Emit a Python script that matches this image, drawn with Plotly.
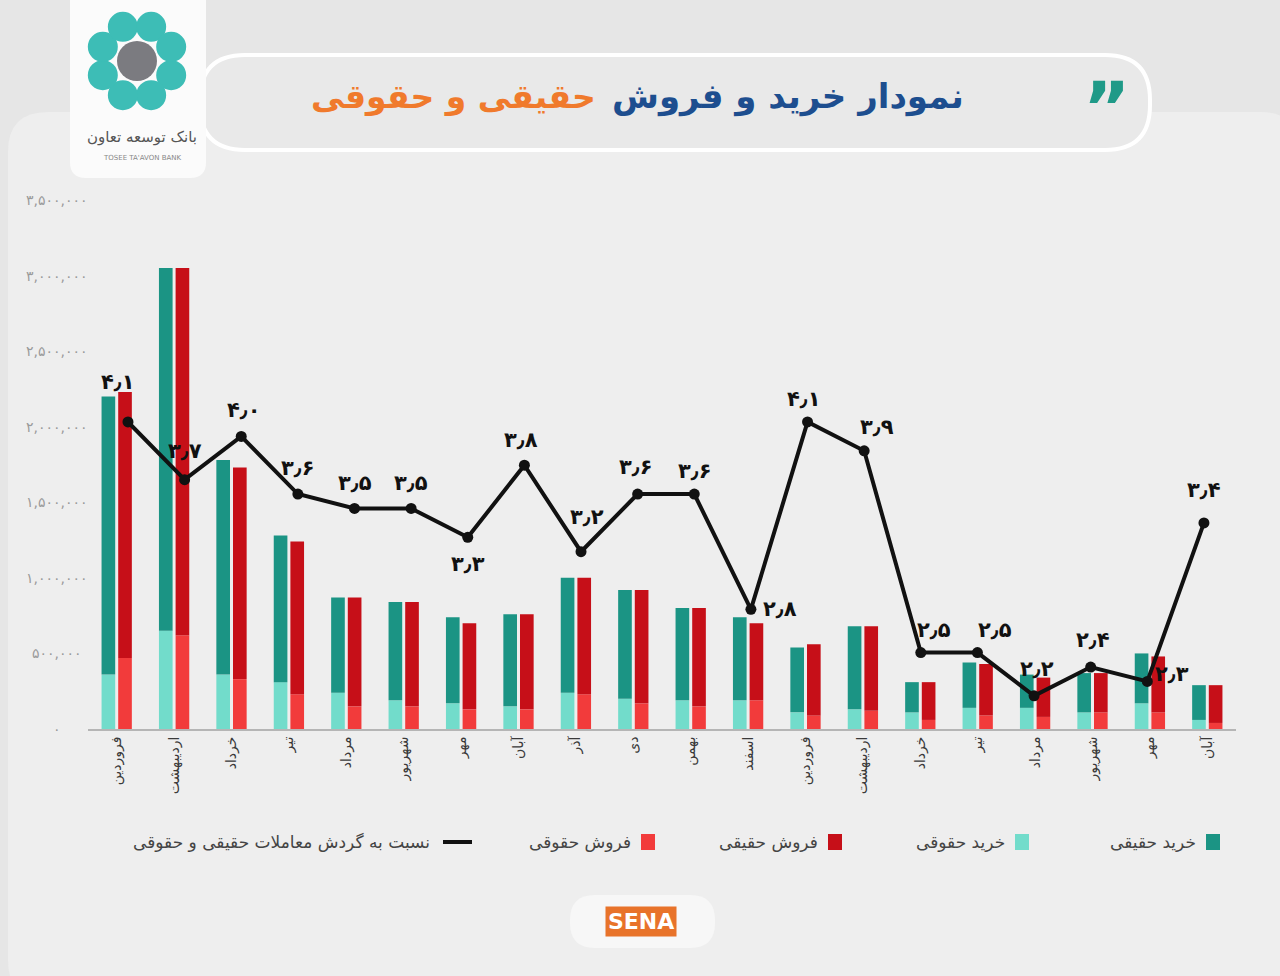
import math
import plotly.graph_objects as go

# ---------------- data ----------------
months = ["فروردین", "اردیبهشت", "خرداد", "تیر", "مرداد", "شهریور", "مهر", "آبان",
          "آذر", "دی", "بهمن", "اسفند", "فروردین", "اردیبهشت", "خرداد", "تیر",
          "مرداد", "شهریور", "مهر", "آبان"]

buy_legal = [360000, 650000, 360000, 310000, 240000, 190000, 170000, 150000, 240000, 200000,
             190000, 190000, 110000, 130000, 110000, 140000, 140000, 110000, 170000, 60000]
buy_real = [1840000, 2400000, 1420000, 970000, 630000, 650000, 570000, 610000, 760000, 720000,
            610000, 550000, 430000, 550000, 200000, 300000, 220000, 260000, 330000, 230000]
sell_legal = [470000, 620000, 330000, 230000, 150000, 150000, 130000, 130000, 230000, 170000,
              150000, 190000, 90000, 120000, 60000, 90000, 80000, 110000, 110000, 40000]
sell_real = [1760000, 2430000, 1400000, 1010000, 720000, 690000, 570000, 630000, 770000, 750000,
             650000, 510000, 470000, 560000, 250000, 340000, 260000, 260000, 370000, 250000]
ratio = [4.1, 3.7, 4.0, 3.6, 3.5, 3.5, 3.3, 3.8, 3.2, 3.6, 3.6, 2.8, 4.1, 3.9, 2.5, 2.5,
         2.2, 2.4, 2.3, 3.4]
y_ticks = [0, 500000, 1000000, 1500000, 2000000, 2500000, 3000000, 3500000]

legend_names = ["خرید حقیقی", "خرید حقوقی", "فروش حقیقی", "فروش حقوقی",
                "نسبت به گردش معاملات حقیقی و حقوقی"]

# ---------------- styles ----------------
lbl_dx = [-10, 0, 2, 0, 0, 0, 0, -3, 6, -2, 0, 29, -4, 13, 13, 18, 3, 2, 25, 0]
lbl_dy = [40, 29, 26, 26, 25, 25, -27, 25, 35, 27, 23, 0, 23, 24, 23, 23, 27, 27, 7, 33]

C_BUY_REAL = "#1b9484"
C_BUY_LEGAL = "#72dccb"
C_SELL_REAL = "#c60f18"
C_SELL_LEGAL = "#f23b3b"
FA = "DejaVu Sans"

W, H = 1280, 976
L, R, T, B = 88, 44, 200, 247
PW, PH = W - L - R, H - T - B


def fa_digits(s):
    return str(s).translate(str.maketrans("0123456789.", "۰۱۲۳۴۵۶۷۸۹٫"))


def px(x):
    return (x - L) / PW


def py(y):
    return (H - B - y) / PH


idx = list(range(len(months)))

fig = go.Figure()
fig.add_trace(go.Bar(x=idx, y=buy_legal, offsetgroup="buy", marker_color=C_BUY_LEGAL,
                     marker_line_width=0, name=legend_names[1], showlegend=False))
fig.add_trace(go.Bar(x=idx, y=buy_real, base=buy_legal, offsetgroup="buy",
                     marker_color=C_BUY_REAL, marker_line_width=0, name=legend_names[0],
                     showlegend=False))
fig.add_trace(go.Bar(x=idx, y=sell_legal, offsetgroup="sell", marker_color=C_SELL_LEGAL,
                     marker_line_width=0, name=legend_names[3], showlegend=False))
fig.add_trace(go.Bar(x=idx, y=sell_real, base=sell_legal, offsetgroup="sell",
                     marker_color=C_SELL_REAL, marker_line_width=0, name=legend_names[2],
                     showlegend=False))
fig.add_trace(go.Scatter(x=idx, y=ratio, xaxis="x2", yaxis="y2", mode="lines+markers",
                         line=dict(color="#111111", width=4), marker=dict(size=11, color="#111111"),
                         name=legend_names[4], showlegend=False, cliponaxis=False))

annotations = []
for i, v in enumerate(ratio):
    annotations.append(dict(text=f"<b>{fa_digits(v)}</b>", xref="x2", yref="y2", x=i, y=v,
                            xshift=lbl_dx[i], yshift=lbl_dy[i], showarrow=False,
                            xanchor="center", yanchor="middle",
                            font=dict(family=FA, size=21, color="#111111")))


def rrect(x0, y0, x1, y1, r):
    X0, X1 = px(x0), px(x1)
    Y0, Y1 = py(y0), py(y1)
    rx, ry = r / PW, r / PH
    return (f"M {X0+rx},{Y0} L {X1-rx},{Y0} Q {X1},{Y0} {X1},{Y0-ry} "
            f"L {X1},{Y1+ry} Q {X1},{Y1} {X1-rx},{Y1} L {X0+rx},{Y1} "
            f"Q {X0},{Y1} {X0},{Y1+ry} L {X0},{Y0-ry} Q {X0},{Y0} {X0+rx},{Y0} Z")


shapes = []
shapes.append(dict(type="path", path=rrect(8, 112, 1300, 1000, 40), xref="paper", yref="paper",
                   fillcolor="#eeeeee", line_width=0, layer="below"))
shapes.append(dict(type="path", path=rrect(200, 55, 1150, 150, 45), xref="paper", yref="paper",
                   fillcolor="#e9e9e9", line=dict(color="#ffffff", width=4), layer="below"))
shapes.append(dict(type="path", path=rrect(70, -20, 206, 178, 16), xref="paper", yref="paper",
                   fillcolor="#fbfbfb", line_width=0, layer="below"))
cx, cy = 137, 61
for k in range(8):
    a = math.radians(22.5 + 45 * k)
    ex, ey = cx + 37 * math.cos(a), cy + 37 * math.sin(a)
    shapes.append(dict(type="circle", xref="paper", yref="paper",
                       x0=px(ex - 15), x1=px(ex + 15), y0=py(ey + 15), y1=py(ey - 15),
                       fillcolor="#3dbdb6", line_width=0, layer="below"))
shapes.append(dict(type="circle", xref="paper", yref="paper",
                   x0=px(cx - 20), x1=px(cx + 20), y0=py(cy + 20), y1=py(cy - 20),
                   fillcolor="#7b7b80", line_width=0, layer="below"))
shapes.append(dict(type="path", path=rrect(570, 895, 715, 948, 25), xref="paper", yref="paper",
                   fillcolor="#f7f7f7", line_width=0, layer="below"))

leg_items = [(1213, C_BUY_REAL, legend_names[0]), (1022, C_BUY_LEGAL, legend_names[1]),
             (835, C_SELL_REAL, legend_names[2]), (648, C_SELL_LEGAL, legend_names[3])]
leg_y = 842
for xm, col, _ in leg_items:
    shapes.append(dict(type="rect", xref="paper", yref="paper", x0=px(xm - 7), x1=px(xm + 7),
                       y0=py(leg_y + 8), y1=py(leg_y - 8), fillcolor=col, line_width=0))
shapes.append(dict(type="line", xref="paper", yref="paper", x0=px(443), x1=px(472),
                   y0=py(leg_y), y1=py(leg_y), line=dict(color="#111111", width=4)))

for xm, col, name in leg_items:
    annotations.append(dict(text=name, xref="paper", yref="paper", x=px(xm - 15), y=py(leg_y),
                            xanchor="right", yanchor="middle", showarrow=False,
                            font=dict(family=FA, size=17, color="#444444")))
annotations.append(dict(text=legend_names[4], xref="paper", yref="paper", x=px(432), y=py(leg_y),
                        xanchor="right", yanchor="middle", showarrow=False,
                        font=dict(family=FA, size=17, color="#444444")))

for v in y_ticks:
    annotations.append(dict(text=fa_digits(f"{v:,}"), xref="paper", yref="y", x=px(57), y=v,
                            xanchor="center", yanchor="middle", showarrow=False,
                            font=dict(family=FA, size=14, color="#9a9a9a")))

annotations.append(dict(text="<b>نمودار خرید و فروش</b>", xref="paper", yref="paper",
                        x=px(966), y=py(97), xanchor="right", yanchor="middle", showarrow=False,
                        font=dict(family=FA, size=34, color="#1d4e8f")))
annotations.append(dict(text="<b>حقیقی و حقوقی</b>", xref="paper", yref="paper",
                        x=px(598), y=py(97), xanchor="right", yanchor="middle", showarrow=False,
                        font=dict(family=FA, size=33, color="#f07a2c")))
annotations.append(dict(text="<b>”</b>", xref="paper", yref="paper", x=px(1106), y=py(108),
                        xanchor="center", yanchor="middle", showarrow=False,
                        font=dict(family=FA, size=72, color="#1f9a88")))
annotations.append(dict(text="بانک توسعه تعاون", xref="paper", yref="paper", x=px(142), y=py(137),
                        xanchor="center", yanchor="middle", showarrow=False,
                        font=dict(family=FA, size=15, color="#555555")))
annotations.append(dict(text="TOSEE TA'AVON BANK", xref="paper", yref="paper", x=px(142),
                        y=py(158), xanchor="center", yanchor="middle", showarrow=False,
                        font=dict(family=FA, size=7, color="#888888")))
annotations.append(dict(text="<b>SENA</b>", xref="paper", yref="paper", x=px(641), y=py(921),
                        xanchor="center", yanchor="middle", showarrow=False, bgcolor="#e8732a",
                        borderpad=2, font=dict(family="DejaVu Sans", size=22, color="#ffffff")))

fig.update_layout(
    width=W, height=H,
    margin=dict(l=L, r=R, t=T, b=B),
    paper_bgcolor="#e6e6e6",
    plot_bgcolor="rgba(0,0,0,0)",
    barmode="group",
    bargap=0.42,
    bargroupgap=0.18,
    showlegend=False,
    xaxis=dict(range=[-0.5, 19.5], tickmode="array", tickvals=idx, ticktext=months,
               tickangle=-90, tickfont=dict(family=FA, size=14, color="#3a3a3a"),
               showgrid=False, zeroline=False, showline=True, linecolor="#b5b5b5",
               linewidth=2, ticks=""),
    yaxis=dict(range=[0, 3500000], showgrid=False, zeroline=False, showticklabels=False,
               ticks=""),
    xaxis2=dict(overlaying="x", range=[-0.706, 19.566], visible=False),
    yaxis2=dict(overlaying="y", range=[1.97, 5.64], visible=False),
    shapes=shapes,
    annotations=annotations,
)

fig.write_html("out.html")
